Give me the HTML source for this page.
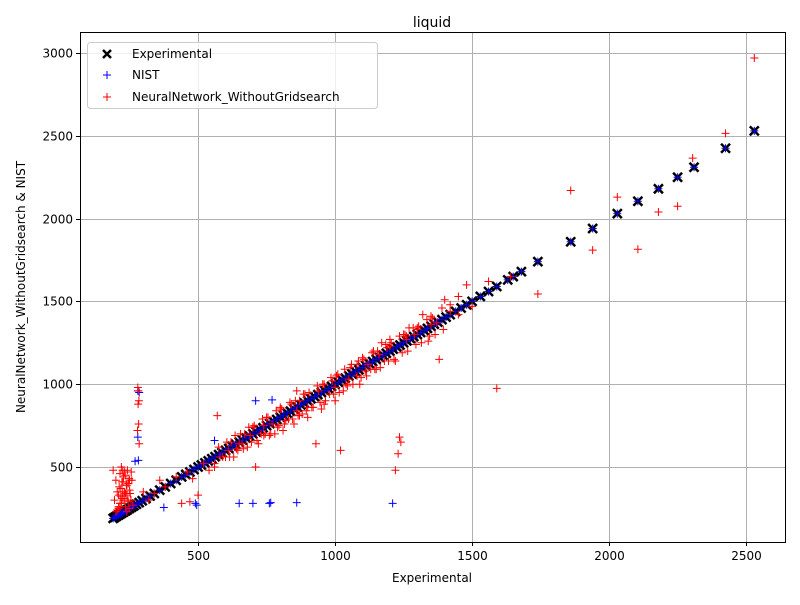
<!DOCTYPE html>
<html><head><meta charset="utf-8"><style>
body{margin:0;background:#fff;font-family:"Liberation Sans","DejaVu Sans",sans-serif}
svg text{font-family:"DejaVu Sans","Liberation Sans",sans-serif}
</style></head><body>
<svg id="chart" width="800" height="600" xmlns="http://www.w3.org/2000/svg">
<rect x="0" y="0" width="800" height="600" fill="#fff"/>
<text x="432" y="27" font-size="14" text-anchor="middle">liquid</text>
<g id="grid"></g>
<g id="marks"></g>
<rect x="80.5" y="32.5" width="705" height="510" fill="none" stroke="#000" stroke-width="1"/>
<g id="ticks"></g>
<text x="432" y="582" font-size="12" text-anchor="middle">Experimental</text>
<text transform="translate(25,287) rotate(-90)" font-size="12" text-anchor="middle">NeuralNetwork_WithoutGridsearch &amp; NIST</text>
<g>
<rect x="87.5" y="42.5" width="290" height="66" rx="3" fill="#fff" fill-opacity="0.8" stroke="#ccc"/>
<g><path d="M103,50 L111,58 M111,50 L103,58" stroke="#000" stroke-width="2.5"/><text x="132" y="58" font-size="12">Experimental</text></g>
<g><path d="M103,75 L111,75 M107,71 L107,79" stroke="#00f" stroke-width="1"/><text x="132" y="79" font-size="12">NIST</text></g>
<g><path d="M103,97 L111,97 M107,93 L107,101" stroke="#f00" stroke-width="1"/><text x="132" y="101" font-size="12">NeuralNetwork_WithoutGridsearch</text></g>
</g>
</svg>
<script>
const xTicks=[500,1000,1500,2000,2500];
const yTicks=[500,1000,1500,2000,2500,3000];
const expVals=[190,196,203,210,216,222,229,236,242,250,258,266,275,285,296,310,325,340,360,380,400,420,440,455,470,485,500,512,525,537,550,562,575,587,600,612,625,637,650,662,675,687,700,712,725,737,750,762,775,787,800,812,825,837,850,862,875,887,900,912,925,937,950,962,975,987,1000,1012,1025,1037,1050,1062,1075,1087,1100,1112,1125,1137,1150,1162,1175,1187,1200,1212,1225,1237,1250,1262,1275,1287,1300,1312,1325,1337,1350,1362,1375,1390,1405,1420,1440,1460,1480,1500,1530,1560,1590,1630,1650,1680,1740,1860,1940,2030,2105,2180,2250,2310,2425,2530];
const nistX=[280,285,280,282,270,375,495,650,700,760,765,860,1210,710,770,560,490];
const nistY=[960,950,680,540,535,255,270,280,280,280,285,285,280,900,905,660,280];
const nnX=[2530,2425,2305,2250,2180,2105,2030,1940,1860,1740,1640,1590,1560,1480,1450,1380,1240,1235,1220,1230,1020,930,870,860,710,780,650,570,500,470,440,
190,195,200,205,210,212,215,218,220,222,225,228,230,232,235,238,240,242,245,248,250,255,258,262,
200,205,210,215,220,225,230,235,240,245,250,
280,282,284,281,283,279,285,
300,320,340,360,380,420,460,480,520,540,560,580,600,610,620,630,640,660,670,680,690,700,720,730,740,750,760,770,790,800,810,820,830,840,850,860,880,890,900,920,940,950,960,980,990,1000,1010,1030,1050,1060,1080,1090,1100,1110,1120,1140,1150,1160,1170,1180,1190,1200,1220,1250,1260,1270,1290,1300,1320,1340,1350,1370,1390,1400,1420,1450,1500,
700,740,800,830,870,900,960,1000,1040,1080,1130,1160,1200,1260,1300,1350,1420,
560,590,615,645,665,695,715,745,765,795,815,845,865,895,915,945,965,995,1015,1045,1065,1095,1115,1145,1165,1195,1215,1245,1265,1295,1315,1345,1365,1395,
575,605,635,655,685,705,735,755,785,805,835,855,885,905,935,955,985,1005,1035,1055,1085,1105,1135,1155,1185,1205,1235,1255,1285,1305,1335,1355,
210,218,226,234,244,252,215,223,231,240,248,256];
const nnY=[2970,2515,2365,2075,2040,1815,2130,1810,2170,1545,1650,975,1620,1600,1530,1150,650,680,480,580,600,640,810,960,500,700,640,810,330,290,280,
480,300,420,350,260,380,460,320,280,410,350,440,300,470,260,390,330,480,400,250,360,300,420,270,
230,240,250,260,500,480,310,340,230,290,420,
980,960,900,880,760,720,640,
350,300,340,420,380,440,470,430,520,480,520,560,560,600,650,560,610,640,700,620,690,740,640,700,750,800,690,760,740,850,720,780,790,880,760,840,820,940,800,860,960,850,880,940,1020,900,1060,960,1030,1120,1050,1000,1160,1080,1120,1200,1090,1180,1250,1140,1220,1270,1140,1300,1270,1340,1300,1340,1420,1260,1410,1370,1460,1510,1480,1420,1470,
740,690,860,790,900,860,1000,980,1000,1120,1090,1180,1230,1290,1330,1360,1440,
500,560,560,600,610,650,660,700,700,750,760,790,810,840,860,890,900,940,950,990,1000,1040,1050,1090,1100,1140,1150,1190,1200,1240,1250,1290,1300,1330,
620,650,690,700,740,750,790,800,840,850,890,900,940,950,990,1000,1040,1050,1090,1100,1140,1150,1190,1200,1240,1250,1290,1300,1340,1350,1390,1400,
330,370,410,450,300,340,280,310,350,390,430,470];

const X0=80,X1=785,Y0=542,Y1=32;
const xmin=69,xmax=2642,ymin=47,ymax=3127;
function sx(v){return X0+(v-xmin)/(xmax-xmin)*(X1-X0);}
function sy(v){return Y0-(v-ymin)/(ymax-ymin)*(Y0-Y1);}
const NS='http://www.w3.org/2000/svg';
function mk(tag,attrs,parent){const e=document.createElementNS(NS,tag);for(const k in attrs)e.setAttribute(k,attrs[k]);parent.appendChild(e);return e;}
const grid=document.getElementById('grid'),ticks=document.getElementById('ticks'),marks=document.getElementById('marks');
xTicks.forEach(t=>{const x=Math.round(sx(t))+0.5;
 const g=mk('line',{x1:x,x2:x,y1:Y1,y2:Y0,stroke:'#b0b0b0','stroke-width':1},grid);
 
 
 mk('line',{x1:x,x2:x,y1:Y0,y2:Y0+4,stroke:'#000'},ticks);
 const tx=mk('text',{x:x,y:Y0+18,'font-size':12,'text-anchor':'middle'},ticks);tx.textContent=t;
 
 });
yTicks.forEach(t=>{const y=Math.round(sy(t))+0.5;
 const g=mk('line',{x1:X0,x2:X1,y1:y,y2:y,stroke:'#b0b0b0','stroke-width':1},grid);
 
 
 mk('line',{x1:X0-4,x2:X0,y1:y,y2:y,stroke:'#000'},ticks);
 const tx=mk('text',{x:X0-7,y:y+4,'font-size':12,'text-anchor':'end'},ticks);tx.textContent=t;
 
 });
function xmark(x,y,col){return mk('path',{d:`M${x-4.5},${y-4.5}L${x+4.5},${y+4.5}M${x+4.5},${y-4.5}L${x-4.5},${y+4.5}`,stroke:col,'stroke-width':2.5},marks);}
function plus(x,y,col){return mk('path',{d:`M${x-4},${y}L${x+4},${y}M${x},${y-4}L${x},${y+4}`,stroke:col,'stroke-width':1},marks);}
expVals.forEach(v=>{const p=xmark(sx(v),sy(v),'#000');
 
 });
expVals.forEach(v=>{const p=plus(sx(v),sy(v),'#00f');
 
 });
nistX.forEach((v,i)=>{const p=plus(sx(v),sy(nistY[i]),'#00f');
 
 });
nnX.forEach((v,i)=>{const p=plus(sx(v),sy(nnY[i]),'#f00');
 
 });
</script>
</body></html>
